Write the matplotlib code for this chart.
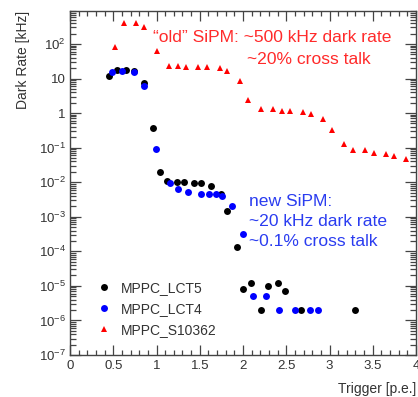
import matplotlib
matplotlib.use('Agg')
import matplotlib.pyplot as plt
from matplotlib.ticker import FixedLocator, FixedFormatter, LogLocator, MultipleLocator, NullFormatter

plt.rcParams['font.family'] = ['Liberation Sans', 'DejaVu Sans']
plt.rcParams['mathtext.fontset'] = 'custom'
plt.rcParams['mathtext.rm'] = 'Liberation Sans'
plt.rcParams['mathtext.it'] = 'Liberation Sans'

# MPPC_LCT5
lct5_x = [0.45, 0.54, 0.65, 0.74, 0.85, 0.96, 1.04, 1.12, 1.24, 1.32, 1.43, 1.51,
          1.63, 1.74, 1.81, 1.93, 2.00, 2.09, 2.21, 2.29, 2.41, 2.49, 2.67, 3.29]
lct5_y = [12, 17.8, 17.4, 16, 7.3, 0.37, 0.0204, 0.0112, 0.0103, 0.0101, 0.0098, 0.0094,
          0.0079, 0.0045, 0.0015, 1.33e-4, 8.1e-6, 1.2e-5, 2e-6, 1.0e-5, 1.2e-5, 7.2e-6, 2e-6, 2e-6]

# MPPC_LCT4
lct4_x = [0.48, 0.60, 0.74, 0.855, 0.99, 1.16, 1.25, 1.36, 1.51, 1.61, 1.69, 1.76,
          1.87, 2.00, 2.11, 2.27, 2.42, 2.60, 2.77, 2.87]
lct4_y = [15.8, 16.6, 15.8, 6.1, 0.092, 0.0098, 0.0063, 0.0052, 0.0046, 0.0046, 0.0046, 0.0040,
          0.0021, 3.2e-4, 5e-6, 5e-6, 2e-6, 2e-6, 2e-6, 2e-6]

# MPPC_S10362
s10362_x = [0.52, 0.62, 0.76, 0.86, 1.0, 1.15, 1.245, 1.34, 1.48, 1.58, 1.73, 1.82, 1.965,
            2.06, 2.21, 2.35, 2.45, 2.54, 2.69, 2.79, 2.93, 3.03, 3.17, 3.27, 3.41, 3.51,
            3.65, 3.75, 3.89]
s10362_y = [83, 413, 413, 303, 63, 23, 22.5, 21, 21, 21, 19.9, 17, 8.5,
            2.4, 1.30, 1.30, 1.18, 1.15, 1.06, 0.93, 0.68, 0.33, 0.129, 0.083, 0.083, 0.069,
            0.066, 0.059, 0.048]

ytick_vals = [1e-7, 1e-6, 1e-5, 1e-4, 1e-3, 1e-2, 1e-1, 1, 10, 100]
ytick_labels = ['$10^{-7}$', '$10^{-6}$', '$10^{-5}$', '$10^{-4}$', '$10^{-3}$',
                '$10^{-2}$', '$10^{-1}$', '1', '10', '$10^{2}$']
xtick_vals = [0, 0.5, 1, 1.5, 2, 2.5, 3, 3.5, 4]
xtick_labels = ['0', '0.5', '1', '1.5', '2', '2.5', '3', '3.5', '4']

fig = plt.figure(figsize=(4.18, 3.97), dpi=100)
ax = fig.add_axes([70 / 418, 1 - 355 / 397, 346 / 418, 344 / 397])

ax.plot(lct5_x, lct5_y, 'o', color='black', ms=5, mew=0, label='MPPC_LCT5')
ax.plot(lct4_x, lct4_y, 'o', color='#0000ff', ms=5, mew=0, label='MPPC_LCT4')
ax.plot(s10362_x, s10362_y, '^', color='#ff0000', ms=5, mew=0, label='MPPC_S10362')

ax.set_yscale('log')
ax.set_xlim(0, 4)
ax.set_ylim(1e-7, 9e2)

ax.yaxis.set_major_locator(FixedLocator(ytick_vals))
ax.yaxis.set_major_formatter(FixedFormatter(ytick_labels))
ax.yaxis.set_minor_locator(LogLocator(base=10, subs=range(2, 10), numticks=20))
ax.yaxis.set_minor_formatter(NullFormatter())
ax.xaxis.set_major_locator(FixedLocator(xtick_vals))
ax.xaxis.set_major_formatter(FixedFormatter(xtick_labels))
ax.xaxis.set_minor_locator(MultipleLocator(0.1))

axis_grey = '#444444'
for sp in ax.spines.values():
    sp.set_color(axis_grey)
    sp.set_linewidth(1.0)
ax.tick_params(which='both', direction='in', top=True, right=True, colors=axis_grey,
               labelcolor='#333333', width=0.9)
ax.tick_params(axis='x', which='major', length=7, labelsize=9.5, pad=3.5)
ax.tick_params(axis='x', which='minor', length=3.5)
ax.tick_params(axis='y', which='major', length=8, labelsize=9.5, pad=3)
ax.tick_params(axis='y', which='minor', length=4.5)

ax.set_ylabel('Dark Rate [kHz]', loc='top', fontsize=10, color='#333333')
ax.yaxis.set_label_coords(-(70 - 30) / 346, 1.0)
ax.set_xlabel('Trigger [p.e.]', loc='right', fontsize=10, color='#333333')
ax.xaxis.set_label_coords(1.0, -(382 - 355) / 344)

leg = ax.legend(loc='upper left', bbox_to_anchor=(0.078, 0.215), frameon=False,
                borderpad=0, borderaxespad=0, handlelength=1.0, handletextpad=0.7,
                labelspacing=0.5, fontsize=10)
for t in leg.get_texts():
    t.set_color('#333333')

red_txt = '#ff2a2a'
blue_txt = '#2a3cf0'
ax.text((153 - 70) / 346, (355 - 38) / 344, '\u201cold\u201d SiPM: ~500 kHz dark rate',
        transform=ax.transAxes, color=red_txt, fontsize=12.6, va='center', ha='left')
ax.text((247 - 70) / 346, (355 - 59) / 344, '~20% cross talk',
        transform=ax.transAxes, color=red_txt, fontsize=12.6, va='center', ha='left')
for i, line in enumerate(['new SiPM:', '~20 kHz dark rate', '~0.1% cross talk']):
    ax.text((249 - 70) / 346, (355 - (201 + 20 * i)) / 344, line,
            transform=ax.transAxes, color=blue_txt, fontsize=12.6, va='center', ha='left')

fig.savefig('out.png', dpi=100)
